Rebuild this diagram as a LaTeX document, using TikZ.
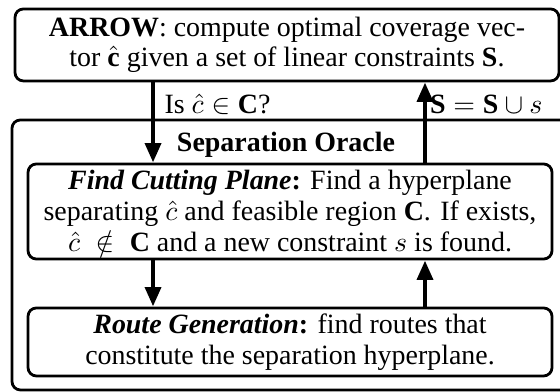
\documentclass[tikz,border=0pt]{standalone}
\usepackage{fontspec}
\setmainfont{Liberation Serif}
\usepackage{amsmath}
\usetikzlibrary{arrows.meta}

\tikzset{
	blocco/.style={draw, line width=1pt, rounded corners=3pt, align=center, inner sep=1pt, font=\fontsize{10}{11}\selectfont},
	freccia/.style={line width=1.6pt, -{Triangle[length=7pt,width=5.6pt]}}
}

\begin{document}
\begin{tikzpicture}
		\useasboundingbox (0,0) rectangle (7.048,-4.933);
		%Oracolo
		\draw [line width=1pt, rounded corners=3pt] (0.151,-1.510) rectangle (7.4,-4.908);
		\node [font=\bfseries] (oracle) at (3.599,-1.825) {Separation Oracle};
		%Blocchi
		\node [blocco, minimum width=6.846cm, minimum height=0.906cm] (arrow) at (3.612,-0.566) {\textbf{ARROW}: compute optimal coverage vec-\\tor $\hat{\mathbf{c}}$ given a set of linear constraints $\mathbf{S}$.};
		\node [blocco, minimum width=6.595cm, minimum height=1.196cm] (cut) at (3.650,-2.662) {\textbf{\textit{Find Cutting Plane}:} Find a hyperplane\\separating $\hat{c}$ and feasible region $\mathbf{C}$. If exists,\\$\hat{c}\;\notin\;\mathbf{C}$ and a new constraint $s$ is found.};
		\node [blocco, minimum width=6.595cm, minimum height=0.856cm] (route) at (3.650,-4.304) {\textbf{\textit{Route Generation}:} find routes that\\constitute the separation hyperplane.};
		%Frecce
		\coordinate (sx) at (1.926,0);
		\coordinate (dx) at (5.349,0);
		\draw [freccia] (arrow.south -| sx) -- (cut.north -| sx) node [pos=0.28, right] {Is $\hat{c} \in \mathbf{C}$?};
		\draw [freccia] (cut.north -| dx) -- (arrow.south -| dx) node [pos=0.72, right, inner sep=1pt] {$\mathbf{S} = \mathbf{S} \cup s$};
		\draw [freccia] (cut.south -| sx) -- (route.north -| sx);
		\draw [freccia] (route.north -| dx) -- (cut.south -| dx);
\end{tikzpicture}
\end{document}
